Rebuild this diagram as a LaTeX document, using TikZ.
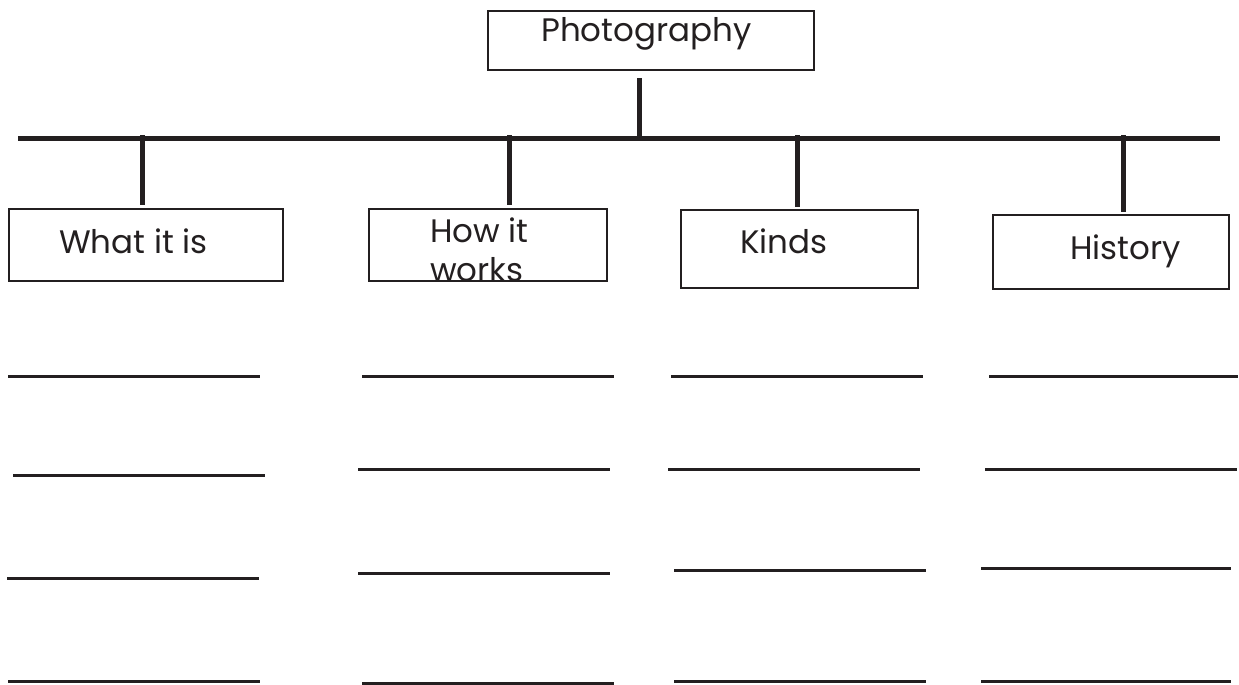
\documentclass[tikz,border=0pt]{standalone}
\usepackage{fontspec}
\setmainfont{Poppins}
\definecolor{ink}{HTML}{231F20}
\begin{document}
\begin{tikzpicture}[x=1pt,y=-1pt,
  box/.style={draw=ink,line width=2pt,inner sep=0pt,outer sep=0pt},
  bar/.style={draw=ink,line width=5pt},
  stem/.style={draw=ink,line width=5pt},
  blank/.style={draw=ink,line width=3pt},
  lbl/.style={anchor=base west,inner sep=0pt,text=ink,font=\fontsize{32.5}{38}\selectfont}]
\useasboundingbox (0,0) rectangle (1239,685);
% boxes
\node[box,minimum width=326pt,minimum height=59pt] (top) at (651,40.5) {};
\node[box,minimum width=274pt,minimum height=72pt] (what) at (146,245) {};
\node[box,minimum width=238pt,minimum height=72pt] (how) at (488,245) {};
\node[box,minimum width=237pt,minimum height=78pt] (kinds) at (799.5,249) {};
\node[box,minimum width=236pt,minimum height=74pt] (hist) at (1111,252) {};
% labels
\node[lbl] (tPhoto) at (541,42) {Photography};
\node[lbl] (tWhat) at (59,253) {What it is};
\node[lbl] (tHow1) at (430,242) {How it};
\node[lbl] (tHow2) at (430,281) {works};
\node[lbl] (tKinds) at (740,253) {Kinds};
\node[lbl] (tHist) at (1070,259) {History};
% bar and stems
\coordinate (barL) at (18,138);
\coordinate (barR) at (1220,138);
\draw[bar] (barL) -- (barR);
\coordinate (t0) at (639,78);
\coordinate (t1) at (639,138);
\draw[stem] (t0) -- (t1);
\coordinate (s1) at (142,135);
\coordinate (s2) at (509,135);
\coordinate (s3) at (797,135);
\coordinate (s4) at (1123,135);
\coordinate (e1) at (142,205);
\coordinate (e2) at (509,205);
\coordinate (e3) at (797,207);
\coordinate (e4) at (1123,212);
\draw[stem] (s1) -- (e1);
\draw[stem] (s2) -- (e2);
\draw[stem] (s3) -- (e3);
\draw[stem] (s4) -- (e4);
% blank lines
\foreach \n/\a/\b/\y in {a1/8/260/376, a2/13/265/475, a3/7/259/578, a4/8/260/681,
  b1/362/614/376, b2/358/610/469, b3/358/610/573, b4/362/614/683,
  c1/671/923/376, c2/668/920/469, c3/674/926/570, c4/674/926/681,
  d1/989/1238/376, d2/985/1237/469, d3/981/1231/568, d4/981/1231/681}{
  \coordinate (\n L) at (\a,\y);
  \coordinate (\n R) at (\b,\y);
  \draw[blank] (\n L) -- (\n R);
}
\end{tikzpicture}
\end{document}
